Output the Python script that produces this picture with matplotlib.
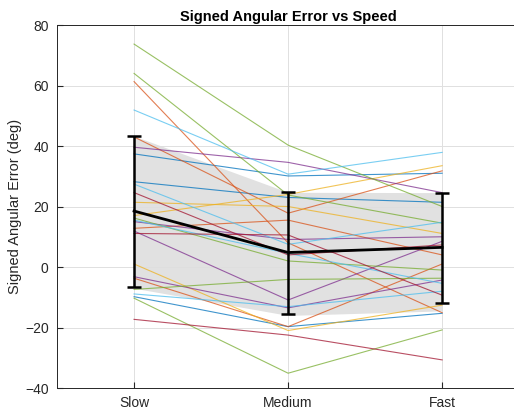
import matplotlib.pyplot as plt
import numpy as np

plt.rcParams['font.family'] = ['Liberation Sans', 'DejaVu Sans']

speeds = ['Slow', 'Medium', 'Fast']

# per-subject signed error (deg) at slow / medium / fast
blue = [[37.4, 30.1, 31.0], [28.2, 23.0, 21.4], [-9.8, -19.7, -15.3]]
orange = [[61.3, 8.0, -15.1], [43.0, 17.8, 31.8], [-3.7, -19.7, 1.0], [12.8, 15.5, 4.0]]
yellow = [[21.4, 20.0, 11.1], [17.0, 24.0, 33.5], [1.0, -21.0, -12.6]]
purple = [[39.6, 34.6, 24.6], [15.0, 9.1, 10.0], [11.9, -10.9, 8.5], [-3.2, -13.5, -4.3]]
green = [[73.7, 40.3, 20.0], [64.0, 23.8, 14.5], [-7.4, -4.1, -3.7], [-10.3, -35.1, -20.8], [16.2, 2.0, -1.0]]
cyan = [[51.9, 30.7, 37.9], [27.4, 7.5, 14.8], [15.5, 4.5, -5.4], [-8.9, -13.1, -8.0]]
darkred = [[24.6, 4.0, 7.3], [11.1, 10.6, -9.3], [-17.3, -22.5, -30.7]]

# group mean and spread
mean_err = [18.5, 4.8, 6.5]
err_hi = [43.3, 24.7, 24.6]
err_lo = [-6.5, -15.5, -11.8]
band_lo = [-7.0, -16.0, -14.5]

colors = {
    'blue': (0, 0.447, 0.741),
    'orange': (0.85, 0.325, 0.098),
    'yellow': (0.929, 0.694, 0.125),
    'purple': (0.494, 0.184, 0.556),
    'green': (0.466, 0.674, 0.188),
    'cyan': (0.301, 0.745, 0.933),
    'darkred': (0.635, 0.078, 0.184),
}
groups = {'blue': blue, 'orange': orange, 'yellow': yellow, 'purple': purple,
          'green': green, 'cyan': cyan, 'darkred': darkred}

x = np.arange(1, len(speeds) + 1)

fig = plt.figure(figsize=(5.14, 4.15), dpi=100)
ax = fig.add_axes([0.111, 0.065, 0.899, 0.8747])

ax.fill_between(x, band_lo, err_hi, color=(0.87, 0.87, 0.87), alpha=0.9, lw=0, zorder=1)

for name, rows in groups.items():
    for r in rows:
        ax.plot(x, r, color=colors[name], lw=0.8, alpha=0.75, zorder=2)

ax.plot(x, mean_err, color='k', lw=2, zorder=3)
yerr = [np.array(mean_err) - np.array(err_lo), np.array(err_hi) - np.array(mean_err)]
ax.errorbar(x, mean_err, yerr=yerr, fmt='none', ecolor='k', elinewidth=1.8,
            capsize=5, capthick=1.8, zorder=4)

ax.set_xlim(0.5, 3.5)
ax.set_ylim(-40, 80)
ax.set_xticks(x)
ax.set_xticklabels(speeds)
ax.set_yticks(np.arange(-40, 81, 20))
ax.grid(True, color=(0.88, 0.88, 0.88), lw=0.7)
ax.set_axisbelow(True)
ax.tick_params(direction='in', length=4, colors=(0.15, 0.15, 0.15), labelsize=10, pad=6)
for s in ax.spines.values():
    s.set_color((0.15, 0.15, 0.15))
    s.set_linewidth(0.7)
ax.set_title('Signed Angular Error vs Speed', fontsize=10.5, fontweight='bold', pad=3)
ax.set_ylabel('Signed Angular Error (deg)', fontsize=10.5, color=(0.15, 0.15, 0.15), labelpad=2)

fig.savefig('out.png', dpi=100)
